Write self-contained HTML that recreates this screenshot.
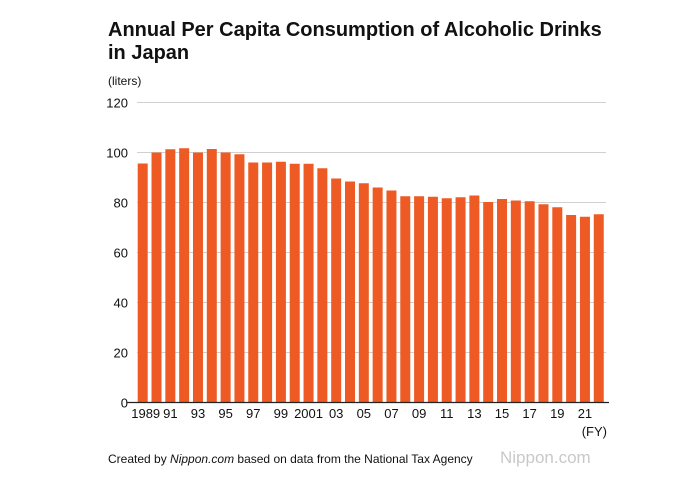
<!DOCTYPE html>
<html><head><meta charset="utf-8"><style>
body{margin:0;background:#fff;font-family:"Liberation Sans",Arial,sans-serif;}
svg{display:block}
</style></head><body>
<svg width="673" height="477" viewBox="0 0 673 477" id="chart">
<text x="108" y="36" font-size="20" font-weight="bold" fill="#111">Annual Per Capita Consumption of Alcoholic Drinks</text>
<text x="108" y="59" font-size="20" font-weight="bold" fill="#111">in Japan</text>
<text x="108" y="85" font-size="12" fill="#111">(liters)</text>
<text x="607" y="436" font-size="13" fill="#111" text-anchor="end">(FY)</text>
<text x="108" y="463" font-size="12" fill="#111">Created by <tspan font-style="italic">Nippon.com</tspan> based on data from the National Tax Agency</text>
<text x="500" y="463" font-size="17" fill="#bbb" opacity="0.8">Nippon.com</text>
<g id="grid"></g><g id="bars"></g><g id="axes"></g>
</svg>
<script>
const years=[1989,1990,1991,1992,1993,1994,1995,1996,1997,1998,1999,2000,2001,2002,2003,2004,2005,2006,2007,2008,2009,2010,2011,2012,2013,2014,2015,2016,2017,2018,2019,2020,2021,2022];
const values=[95.6,100,101.3,101.7,100,101.4,100,99.3,96,96,96.3,95.5,95.5,93.7,89.6,88.4,87.7,86,84.8,82.5,82.5,82.3,81.7,82.1,82.8,80.2,81.4,80.8,80.5,79.3,78.1,75,74.3,75.3];
const yTicks=[0,20,40,60,80,100,120];
const xTickLabels=["1989","91","93","95","97","99","2001","03","05","07","09","11","13","15","17","19","21"];
const NS="http://www.w3.org/2000/svg";
const y0=402.5,pxPer=2.5,x0=142.7,step=13.82,bw=10;
const yS=v=>y0-v*pxPer, xS=i=>x0+i*step;
const grid=document.getElementById('grid'),bars=document.getElementById('bars'),axes=document.getElementById('axes');
function mk(tag,attrs,parent){const e=document.createElementNS(NS,tag);for(const k in attrs)e.setAttribute(k,attrs[k]);parent.appendChild(e);return e;}
yTicks.forEach(t=>{
  if(t>0){const l=mk('line',{x1:137,x2:606,y1:yS(t),y2:yS(t),stroke:'#d0d0d0','stroke-width':1},grid);
  
  }
  const tx=mk('text',{x:128,y:yS(t)+5,'font-size':13,'text-anchor':'end',fill:'#111'},axes);
  tx.textContent=t;
  
  
});
values.forEach((v,i)=>{
  const r=mk('rect',{x:xS(i)-bw/2,y:yS(v),width:bw,height:y0-yS(v),fill:'#ee5a24'},bars);
  
  
});
const ax=mk('line',{x1:127,x2:609,y1:y0,y2:y0,stroke:'#222','stroke-width':1.2},axes);


xTickLabels.forEach((lab,k)=>{
  const tx=mk('text',{x:xS(k*2)+(k===0?3:0),y:418,'font-size':13,'text-anchor':'middle',fill:'#111'},axes);
  tx.textContent=lab;
  
  
});
</script>
</body></html>
